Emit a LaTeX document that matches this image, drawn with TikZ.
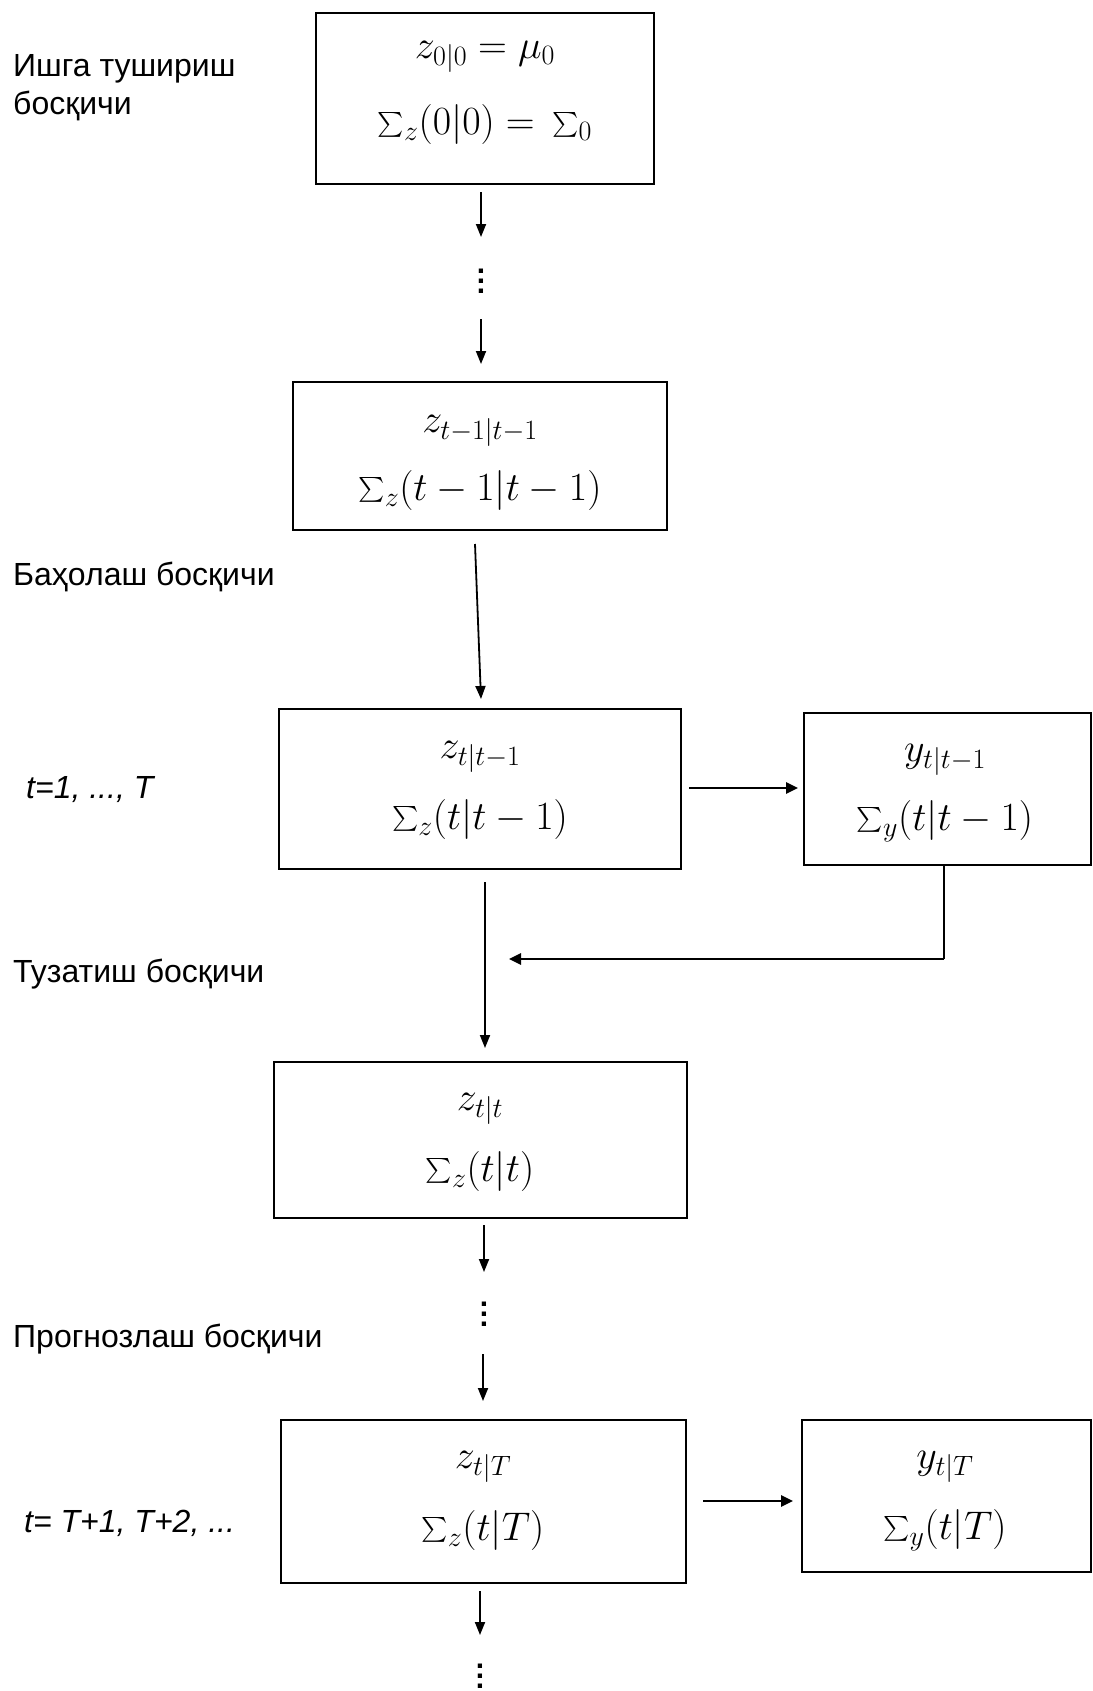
\RequirePackage{fix-cm}
\documentclass[tikz,border=0pt]{standalone}
\usepackage{amsmath}
\usepackage{fontspec}
\setmainfont{Liberation Sans}
\usetikzlibrary{arrows.meta}
\begin{document}
\begin{tikzpicture}[x=1pt,y=-1pt,
 box/.style={draw, line width=1.8pt, inner sep=0pt},
 mth/.style={font=\fontsize{40}{46}\selectfont, inner sep=0pt},
 lbl/.style={font=\fontsize{32}{37.5}\selectfont, anchor=base west, inner sep=0pt, align=left},
 arr/.style={line width=1.8pt, -{Triangle[length=13pt,width=10pt]}},
 harr/.style={line width=2.6pt, -{Triangle[length=12pt,width=11pt]}},
 dts/.style={font=\bfseries\fontsize{30}{10}\selectfont, inner sep=0pt, align=center}]
\useasboundingbox (0,0) rectangle (1092,1691);

% boxes
\node[box, minimum width=338pt, minimum height=171pt] (b1) at (485,98.5) {};
\node[box, minimum width=374pt, minimum height=148pt] (b2) at (480,456) {};
\node[box, minimum width=402pt, minimum height=160pt] (b3) at (480,789) {};
\node[box, minimum width=287pt, minimum height=152pt] (b4) at (947.5,789) {};
\node[box, minimum width=413pt, minimum height=156pt] (b5) at (480.5,1140) {};
\node[box, minimum width=405pt, minimum height=163pt] (b6) at (483.5,1501.5) {};
\node[box, minimum width=289pt, minimum height=152pt] (b7) at (946.5,1496) {};

% box texts
\node[mth] (t1a) at (485,57) {$z_{0|0}=\mu_0$};
\node[mth] (t1b) at (485,125) {$\textstyle\sum_z(0|0)=\,\sum_0$};
\node[mth] (t2a) at (480,431) {$z_{t-1|t-1}$};
\node[mth] (t2b) at (480,490) {$\textstyle\sum_z(t-1|t-1)$};
\node[mth] (t3a) at (480,757) {$z_{t|t-1}$};
\node[mth] (t3b) at (480,819) {$\textstyle\sum_z(t|t-1)$};
\node[mth] (t4a) at (945,760) {$y_{t|t-1}$};
\node[mth] (t4b) at (945,821) {$\textstyle\sum_y(t|t-1)$};
\node[mth] (t5a) at (480,1109) {$z_{t|t}$};
\node[mth] (t5b) at (480,1171) {$\textstyle\sum_z(t|t)$};
\node[mth] (t6a) at (483,1467) {$z_{t|T}$};
\node[mth] (t6b) at (483,1530) {$\textstyle\sum_z(t|T)$};
\node[mth] (t7a) at (945,1467) {$y_{t|T}$};
\node[mth] (t7b) at (945,1530) {$\textstyle\sum_y(t|T)$};

% side labels
\node[lbl] (l1) at (13,114.5) {Ишга тушириш\\босқичи};
\node[lbl] (l2) at (13,585) {Баҳолаш босқичи};
\node[lbl] (l3) at (26,798) {\itshape t=1, ..., T};
\node[lbl] (l4) at (13,982) {Тузатиш босқичи};
\node[lbl] (l5) at (13,1347) {Прогнозлаш босқичи};
\node[lbl] (l6) at (24,1532) {\itshape t= T+1, T+2, ...};

% dots
\node[dts] (d1) at (481,281) {.\\.\\.};
\node[dts] (d2) at (484,1314) {.\\.\\.};
\node[dts] (d3) at (480,1676) {.\\.\\.};

% connector end points
\coordinate (a1s) at (481,192); \coordinate (a1e) at (481,237);
\coordinate (a2s) at (481,319); \coordinate (a2e) at (481,364);
\coordinate (a3s) at (475,544); \coordinate (a3e) at (481,699);
\coordinate (a4s) at (689,788); \coordinate (a4e) at (798,788);
\coordinate (a5s) at (485,882); \coordinate (a5e) at (485,1048);
\coordinate (fb1) at (944,959); \coordinate (fb2) at (509,959);
\coordinate (a6s) at (484,1225); \coordinate (a6e) at (484,1272);
\coordinate (a7s) at (483,1354); \coordinate (a7e) at (483,1401);
\coordinate (a8s) at (703,1501); \coordinate (a8e) at (793,1501);
\coordinate (a9s) at (480,1591); \coordinate (a9e) at (480,1635);

\draw[arr] (a1s) -- (a1e);
\draw[arr] (a2s) -- (a2e);
\draw[arr] (a3s) -- (a3e);
\draw[harr] (a4s) -- (a4e);
\draw[arr] (a5s) -- (a5e);
\draw[line width=1.8pt] ([xshift=-3.5pt]b4.south) -- (fb1);
\draw[harr, line cap=butt] (fb1) -- (fb2);
\draw[arr] (a6s) -- (a6e);
\draw[arr] (a7s) -- (a7e);
\draw[harr] (a8s) -- (a8e);
\draw[arr] (a9s) -- (a9e);
\end{tikzpicture}
\end{document}
